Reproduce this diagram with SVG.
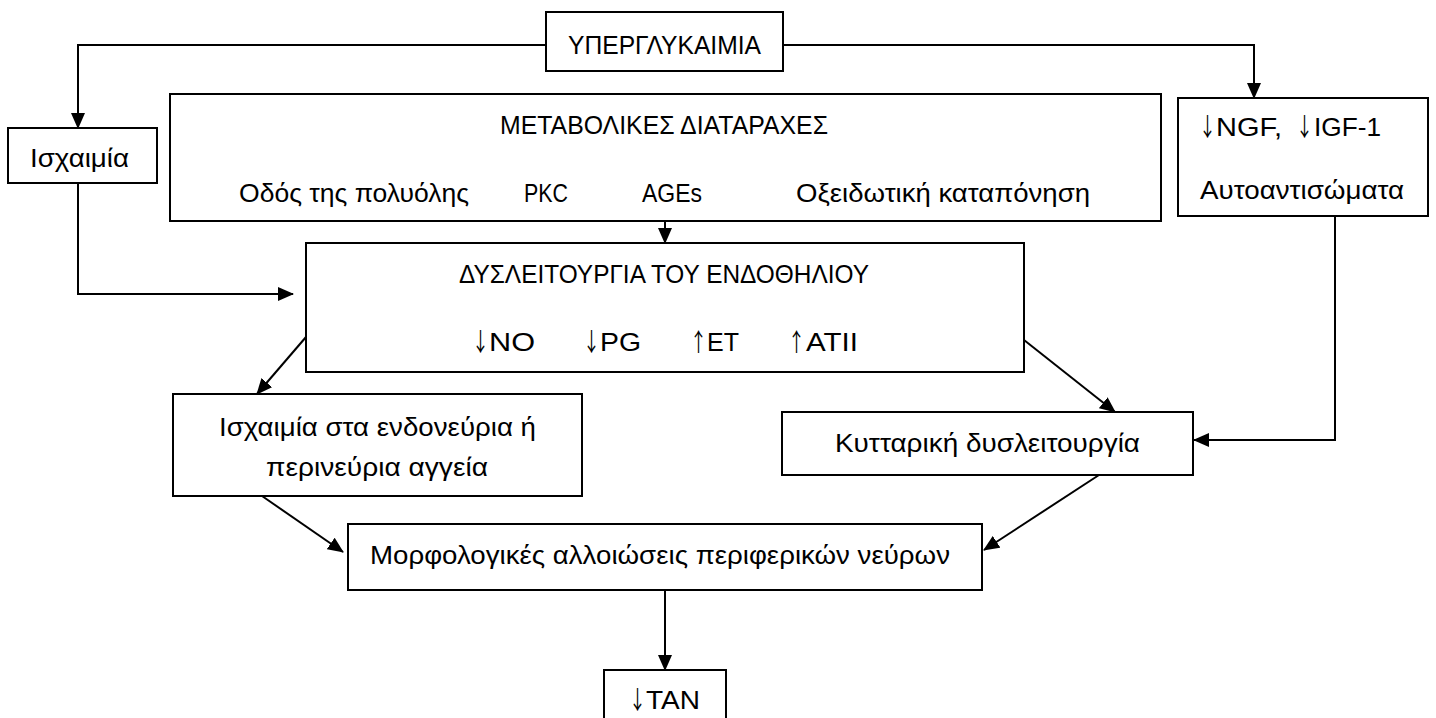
<svg xmlns="http://www.w3.org/2000/svg" width="1436" height="718" viewBox="0 0 1436 718">
<defs>
<marker id="ah" markerUnits="userSpaceOnUse" markerWidth="16" markerHeight="14" refX="15" refY="7" orient="auto">
<path d="M0,0 L16,7 L0,14 Z" fill="#000"/>
</marker>
<style>
.box{fill:#fff;stroke:#000;stroke-width:2}
.t{font-family:"Liberation Sans","DejaVu Sans",sans-serif;font-size:25px;fill:#000}
.a{font-family:"Noto Sans CJK SC","DejaVu Sans",sans-serif;font-size:25px;fill:#000}
.c{fill:none;stroke:#000;stroke-width:2;marker-end:url(#ah)}
</style>
</defs>
<rect width="1436" height="718" fill="#fff"/>
<g id="connectors">
<path class="c" d="M546,45 H78 V128"/>
<path class="c" d="M783,45 H1254 V98"/>
<path class="c" d="M665,221 V243"/>
<path class="c" d="M78,183 V294 H293"/>
<path class="c" d="M306,337 L257,394"/>
<path class="c" d="M1024,340 L1115,412"/>
<path class="c" d="M1335,216 V440 H1194"/>
<path class="c" d="M262,496 L343,552"/>
<path class="c" d="M1099,475 L984,550"/>
<path class="c" d="M665,590 V670"/>
</g>
<g id="hyperglycemia">
<rect class="box" x="546" y="12" width="237" height="59"/>
<text class="t" x="568" y="54" textLength="193" lengthAdjust="spacingAndGlyphs">ΥΠΕΡΓΛΥΚΑΙΜΙΑ</text>
</g>
<g id="ischemia">
<rect class="box" x="8" y="128" width="149" height="55"/>
<text class="t" x="30" y="167" textLength="99" lengthAdjust="spacingAndGlyphs">Ισχαιμία</text>
</g>
<g id="metabolic">
<rect class="box" x="170" y="94" width="991" height="127"/>
<text class="t" x="500" y="134" textLength="328" lengthAdjust="spacingAndGlyphs">ΜΕΤΑΒΟΛΙΚΕΣ ΔΙΑΤΑΡΑΧΕΣ</text>
<text class="t" x="239" y="202" textLength="230" lengthAdjust="spacingAndGlyphs">Οδός της πολυόλης</text>
<text class="t" x="524" y="202" textLength="44" lengthAdjust="spacingAndGlyphs">PKC</text>
<text class="t" x="642" y="202" textLength="60" lengthAdjust="spacingAndGlyphs">AGEs</text>
<text class="t" x="796" y="202" textLength="294" lengthAdjust="spacingAndGlyphs">Οξειδωτική καταπόνηση</text>
</g>
<g id="ngf">
<rect class="box" x="1178" y="98" width="250" height="118"/>
<text class="a" transform="translate(1199,136) scale(0.68,1)">↓</text>
<text class="t" x="1216" y="136" textLength="66" lengthAdjust="spacingAndGlyphs">NGF,</text>
<text class="a" transform="translate(1296,136) scale(0.68,1)">↓</text>
<text class="t" x="1314" y="136" textLength="67" lengthAdjust="spacingAndGlyphs">IGF-1</text>
<text class="t" x="1200" y="199" textLength="204" lengthAdjust="spacingAndGlyphs">Αυτοαντισώματα</text>
</g>
<g id="endothelium">
<rect class="box" x="306" y="243" width="718" height="129"/>
<text class="t" x="459" y="283" textLength="410" lengthAdjust="spacingAndGlyphs">ΔΥΣΛΕΙΤΟΥΡΓΙΑ ΤΟΥ ΕΝΔΟΘΗΛΙΟΥ</text>
<text class="a" transform="translate(472,351) scale(0.68,1)">↓</text>
<text class="t" x="489" y="351" textLength="46" lengthAdjust="spacingAndGlyphs">NO</text>
<text class="a" transform="translate(583,351) scale(0.68,1)">↓</text>
<text class="t" x="600" y="351" textLength="41" lengthAdjust="spacingAndGlyphs">PG</text>
<text class="a" transform="translate(690,351) scale(0.68,1)">↑</text>
<text class="t" x="707" y="351">ET</text>
<text class="a" transform="translate(788,351) scale(0.68,1)">↑</text>
<text class="t" x="806" y="351" textLength="52" lengthAdjust="spacingAndGlyphs">ATII</text>
</g>
<g id="ischemia-vessels">
<rect class="box" x="173" y="394" width="409" height="102"/>
<text class="t" x="219" y="436" textLength="317" lengthAdjust="spacingAndGlyphs">Ισχαιμία στα ενδονεύρια ή</text>
<text class="t" x="266" y="476" textLength="222" lengthAdjust="spacingAndGlyphs">περινεύρια αγγεία</text>
</g>
<g id="cellular">
<rect class="box" x="782" y="412" width="411" height="63"/>
<text class="t" x="835" y="452" textLength="305" lengthAdjust="spacingAndGlyphs">Κυτταρική δυσλειτουργία</text>
</g>
<g id="morphological">
<rect class="box" x="348" y="524" width="634" height="66"/>
<text class="t" x="370" y="564" textLength="580" lengthAdjust="spacingAndGlyphs">Μορφολογικές αλλοιώσεις περιφερικών νεύρων</text>
</g>
<g id="tan">
<rect class="box" x="604" y="670" width="122" height="60"/>
<text class="a" transform="translate(629,709) scale(0.68,1)">↓</text>
<text class="t" x="646" y="709" textLength="54" lengthAdjust="spacingAndGlyphs">TAN</text>
</g>
</svg>
